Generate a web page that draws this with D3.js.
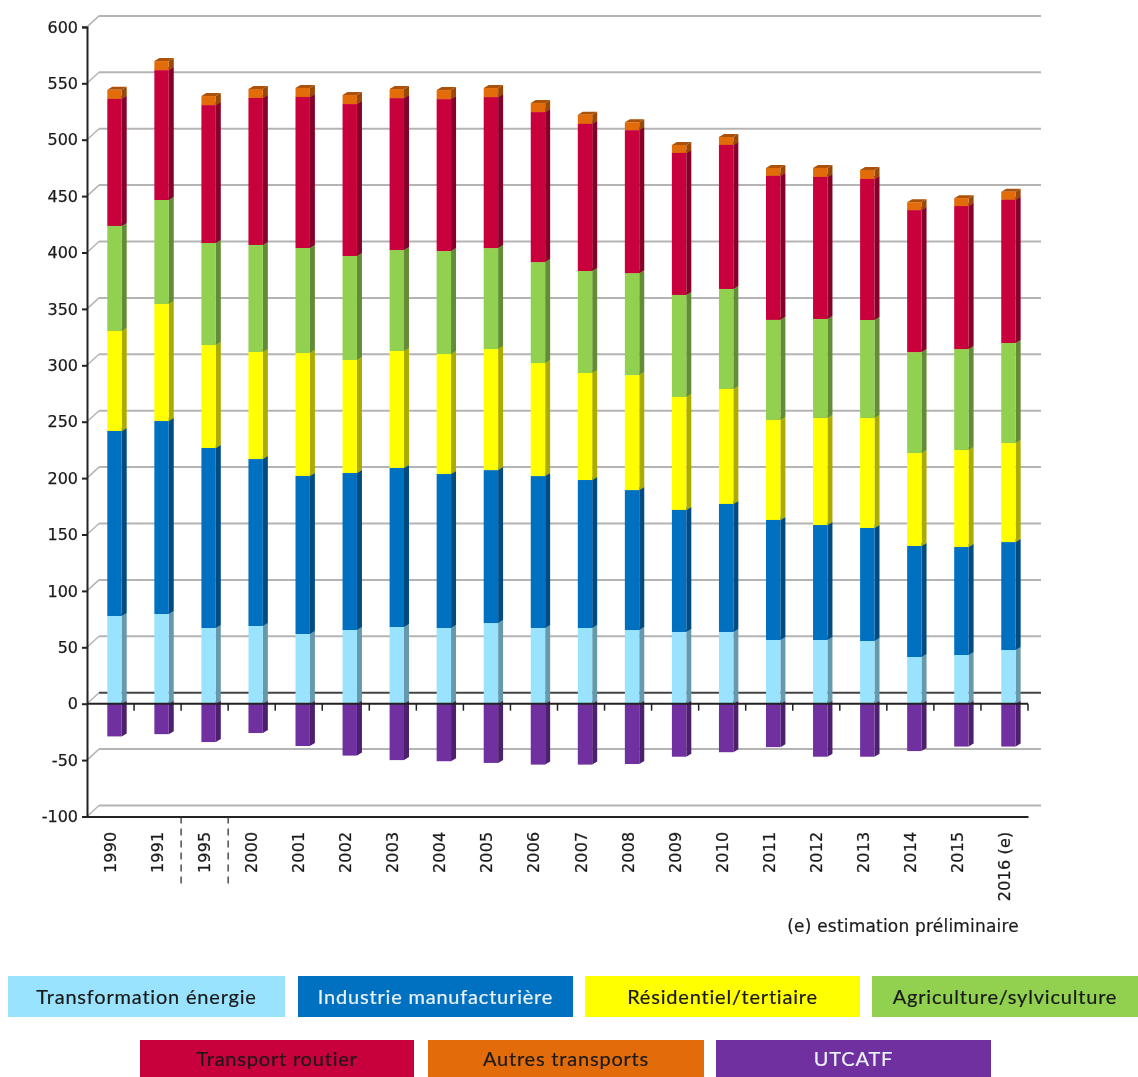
<!DOCTYPE html>
<html lang="fr">
<head>
<meta charset="utf-8">
<title>Emissions</title>
<script src="https://cdn.jsdelivr.net/npm/d3@7"></script>
<style>
  html, body { margin: 0; padding: 0; background: #fff; overflow: hidden; }
  svg { display: block; filter: blur(0.55px); }
  text { font-family: "DejaVu Sans", sans-serif; fill: #1a1a1a; }
  .legend text { font-family: "Lato", sans-serif; letter-spacing: 0.8px; stroke: currentColor; stroke-width: 0.2px; }
</style>
</head>
<body>
<div id="chart"></div>
<script>
// values
const years = ["1990","1991","1995","2000","2001","2002","2003","2004","2005","2006","2007","2008","2009","2010","2011","2012","2013","2014","2015","2016 (e)"];
const energie =     [77.8,79.5,67.1,68.9,61.8,65.3,68,67.1,71.5,67.1,67.1,65.3,63.6,63.6,56.5,56.5,55.6,41.4,43.2,47.6];
const industrie =   [164,171.1,159.6,148,140.1,139.2,141,136.5,135.6,134.7,131.2,124.1,108.2,113.5,106.4,101.9,100.2,98.4,95.7,95.7];
const residentiel = [88.7,103.7,91.3,94.9,109,100.2,103.7,106.4,107.3,100.2,94.9,101.9,100.2,101.9,88.7,94.9,97.5,82.4,86,87.8];
const agriculture = [93.1,92.2,90.4,94.9,93.1,92.2,89.5,91.3,89.5,89.5,90.4,90.4,90.4,88.7,88.7,87.8,86.9,89.5,89.5,88.7];
const routier =     [112.6,115.2,122.3,130.3,133.9,134.7,134.7,134.7,133.9,133,130.5,126.8,125.9,127.7,127.7,125.9,125,125.9,126.8,127];
const autres =      [8,8,8,8,8,8,8,8,8,8,8,7,7,7,7,8,8,7,7,7];
const utcatf =      [-29,-27,-34,-26,-37.5,-46,-50,-51,-52.5,-54,-54,-53.5,-47,-43,-38.5,-47,-47,-42,-38,-38];

const yTicks = [-100,-50,0,50,100,150,200,250,300,350,400,450,500,550,600];
const breaks = ["1991","1995"]; // dashed separators after these years

const seriesNames = ["Transformation énergie","Industrie manufacturière","Résidentiel/tertiaire","Agriculture/sylviculture","Transport routier","Autres transports"];
const seriesValues = [energie,industrie,residentiel,agriculture,routier,autres];
const colors = ["#99e3ff","#0070c0","#ffff00","#92d050","#c8003c","#e36c0a"];
const negName = "UTCATF", negColor = "#7030a0";

const legendRow1 = ["Transformation énergie","Industrie manufacturière","Résidentiel/tertiaire","Agriculture/sylviculture"];
const legendRow2 = ["Transport routier","Autres transports","UTCATF"];
const legendDark = ["Industrie manufacturière","UTCATF"];
const legendColors = d3.scaleOrdinal().domain(seriesNames.concat(negName)).range(colors.concat(negColor));

const W = 1138, H = 1077;
const left = 87, right = 1028, y0 = 703.7, perUnit = 1.128;
const wallX = 12, wallY = -11, wallEnd = 1041;
const barDx = 5, barDy = -3;

const x = d3.scaleBand().domain(years).range([left, right]);
const y = d3.scaleLinear().domain([-100, 600]).range([y0 + 100 * perUnit, y0 - 600 * perUnit]);
const barW = 14.4, barOff = 20.3;

const svg = d3.select("#chart").append("svg").attr("width", W).attr("height", H);

// back wall grid + slanted side wall
const grid = svg.append("g");
yTicks.forEach(t => {
  const c = t === 0 ? "#444" : "#b4b4b4";
  grid.append("line").attr("x1", left + wallX).attr("x2", wallEnd)
    .attr("y1", y(t) + wallY).attr("y2", y(t) + wallY).attr("stroke", c).attr("stroke-width", 2);
  grid.append("line").attr("x1", left).attr("x2", left + wallX)
    .attr("y1", y(t)).attr("y2", y(t) + wallY).attr("stroke", "#b4b4b4").attr("stroke-width", 1.5);
});

function drawBar(g, xl, top, bottom, col) {
  const xr = xl + barW;
  const c = d3.color(col);
  // side
  g.append("path").attr("fill", c.darker(1.1))
    .attr("d", `M${xr},${top}L${xr + barDx},${top + barDy}L${xr + barDx},${bottom + barDy}L${xr},${bottom}Z`);
  // top
  g.append("path").attr("fill", c.darker(0.8))
    .attr("d", `M${xl},${top}L${xl + barDx},${top + barDy}L${xr + barDx},${top + barDy}L${xr},${top}Z`);
  // front
  g.append("rect").attr("x", xl).attr("y", top).attr("width", barW).attr("height", bottom - top).attr("fill", col);
}

// negative part first, then the stacks
const bars = svg.append("g");
years.forEach((yr, i) => {
  const xl = x(yr) + barOff;
  drawBar(bars, xl, y(0), y(utcatf[i]), negColor);
});

const table = years.map((yr, i) => {
  const row = { year: yr };
  seriesNames.forEach((n, k) => row[n] = seriesValues[k][i]);
  return row;
});
const stacked = d3.stack().keys(seriesNames)(table);
years.forEach((yr, i) => {
  const xl = x(yr) + barOff;
  stacked.forEach((s, k) => {
    drawBar(bars, xl, y(s[i][1]), y(s[i][0]), colors[k]);
  });
});

// y axis
const yAxis = d3.axisLeft(y).tickValues(yTicks).tickSize(5).tickPadding(4).tickFormat(d => String(d));
const gy = svg.append("g").attr("transform", `translate(${left},0)`).call(yAxis);
gy.select(".domain").attr("stroke", "#222").attr("stroke-width", 2);
gy.selectAll(".tick line").attr("stroke", "#222").attr("stroke-width", 2);
gy.selectAll(".tick text").style("font-size", "16px").style("font-family", "'DejaVu Sans', sans-serif")
  .style("stroke", "#1a1a1a").style("stroke-width", "0.25px");

// bottom axis with rotated year labels
const xAxis = d3.axisBottom(x).tickSize(0).tickPadding(0);
const gx = svg.append("g").attr("transform", `translate(0,${y(-100)})`).call(xAxis);
gx.select(".domain").attr("stroke", "#222").attr("stroke-width", 2);
gx.selectAll(".tick text")
  .style("font-size", "16px").style("font-family", "'DejaVu Sans', sans-serif")
  .style("stroke", "#1a1a1a").style("stroke-width", "0.25px").style("letter-spacing", "0.2px")
  .attr("text-anchor", "end").attr("dy", null)
  .attr("transform", "translate(1,15) rotate(-90)").attr("dominant-baseline", "middle");

// zero line with its ticks at the band edges
const zero = svg.append("g");
zero.append("line").attr("x1", left).attr("x2", right).attr("y1", y(0)).attr("y2", y(0))
  .attr("stroke", "#222").attr("stroke-width", 2);
years.forEach(yr => {
  const xe = x(yr) + x.bandwidth();
  zero.append("line").attr("x1", xe).attr("x2", xe).attr("y1", y(0)).attr("y2", y(0) + 7)
    .attr("stroke", "#222").attr("stroke-width", 1.5);
});

// dashed separators
breaks.forEach(b => {
  const xe = x(b) + x.bandwidth();
  svg.append("line").attr("x1", xe).attr("x2", xe).attr("y1", y(-100)).attr("y2", y(-100) + 67)
    .attr("stroke", "#333").attr("stroke-width", 1.3).attr("stroke-dasharray", "7,5");
});

svg.append("text").attr("x", 1019).attr("y", 932).attr("text-anchor", "end")
  .style("font-size", "17px").style("letter-spacing", "0.2px").style("stroke", "#1a1a1a").style("stroke-width", "0.2px")
  .text("(e) estimation préliminaire");

// legend
const legend = svg.append("g").attr("class", "legend");
function legendRow(names, xs, top, h) {
  names.forEach((n, i) => {
    legend.append("rect").attr("x", xs[i]).attr("y", top).attr("width", xs[i + names.length] - xs[i]).attr("height", h)
      .attr("fill", legendColors(n));
    legend.append("text").attr("x", (xs[i] + xs[i + names.length]) / 2).attr("y", top + h / 2 + 7)
      .attr("text-anchor", "middle").style("font-size", "20px")
      .style("color", legendDark.includes(n) ? "#eaf2fa" : "#1a1a1a")
      .style("fill", legendDark.includes(n) ? "#eaf2fa" : "#1a1a1a").text(n);
  });
}
legendRow(legendRow1, [8,298,585,872, 285,573,860,1138], 976, 41);
legendRow(legendRow2, [140,428,716, 414,704,991], 1040, 37);
</script>
</body>
</html>
